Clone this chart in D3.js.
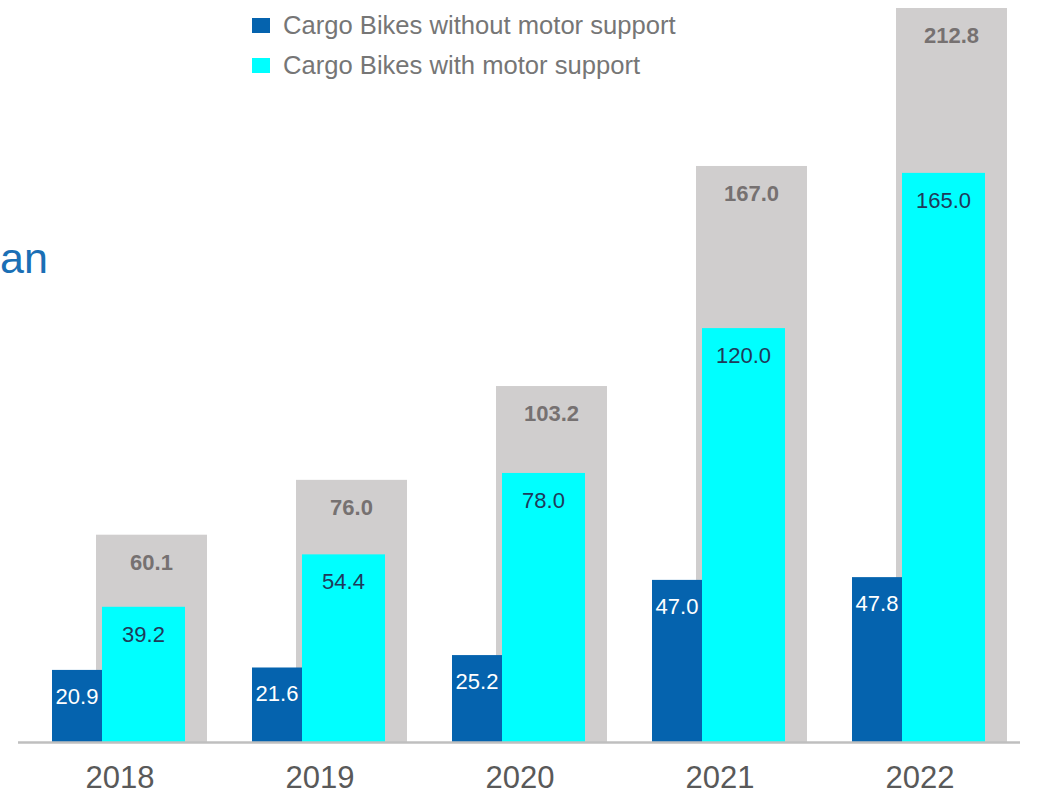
<!DOCTYPE html>
<html>
<head>
<meta charset="utf-8">
<script src="https://cdn.jsdelivr.net/npm/d3@7"></script>
<style>
  body { margin: 0; background: #fff; }
  svg { display: block; font-family: Arial, "Liberation Sans", sans-serif; }
</style>
</head>
<body>
<svg width="1050" height="791"></svg>
<script>
var svg = d3.select('svg');

// data
var years = ['2018', '2019', '2020', '2021', '2022'];
var withoutMotor = [20.9, 21.6, 25.2, 47.0, 47.8];
var withMotor = [39.2, 54.4, 78.0, 120.0, 165.0];
var totals = [60.1, 76.0, 103.2, 167.0, 212.8];
var legendLabels = ['Cargo Bikes without motor support', 'Cargo Bikes with motor support'];

var darkBlue = '#0563ae';
var cyan = '#00ffff';
var grey = '#d0cece';

var x = d3.scaleBand().domain(years).range([20, 1020]).padding(0);
var y = d3.scaleLinear().domain([0, 212.8]).range([742, 8]);

// cut-off title text on the left
svg.append('text')
  .attr('x', 0).attr('y', 273)
  .attr('font-size', 43)
  .attr('fill', '#1a6fb5')
  .text('an');

// grey total bars
svg.selectAll('rect.total')
  .data(years)
  .enter()
  .append('rect')
  .attr('class', 'total')
  .attr('x', function(d) { return x(d) + 76; })
  .attr('width', 111)
  .attr('y', function(d, i) { return y(totals[i]); })
  .attr('height', function(d, i) { return y(0) - y(totals[i]); })
  .attr('fill', grey);

// cyan bars
svg.selectAll('rect.motor')
  .data(years)
  .enter()
  .append('rect')
  .attr('class', 'motor')
  .attr('x', function(d) { return x(d) + 82; })
  .attr('width', 83)
  .attr('y', function(d, i) { return y(withMotor[i]); })
  .attr('height', function(d, i) { return y(0) - y(withMotor[i]); })
  .attr('fill', cyan);

// dark blue bars
svg.selectAll('rect.nomotor')
  .data(years)
  .enter()
  .append('rect')
  .attr('class', 'nomotor')
  .attr('x', function(d) { return x(d) + 32; })
  .attr('width', 50)
  .attr('y', function(d, i) { return y(withoutMotor[i]); })
  .attr('height', function(d, i) { return y(0) - y(withoutMotor[i]); })
  .attr('fill', darkBlue);

// labels
svg.selectAll('text.total')
  .data(years)
  .enter()
  .append('text')
  .attr('class', 'total')
  .attr('x', function(d) { return x(d) + 76 + 111 / 2; })
  .attr('y', function(d, i) { return y(totals[i]) + 35; })
  .attr('text-anchor', 'middle')
  .attr('font-size', 22)
  .attr('font-weight', 'bold')
  .attr('fill', '#767171')
  .text(function(d, i) { return totals[i].toFixed(1); });

svg.selectAll('text.motor')
  .data(years)
  .enter()
  .append('text')
  .attr('class', 'motor')
  .attr('x', function(d) { return x(d) + 82 + 83 / 2; })
  .attr('y', function(d, i) { return y(withMotor[i]) + 35; })
  .attr('text-anchor', 'middle')
  .attr('font-size', 22)
  .attr('fill', '#1f3a5a')
  .text(function(d, i) { return withMotor[i].toFixed(1); });

svg.selectAll('text.nomotor')
  .data(years)
  .enter()
  .append('text')
  .attr('class', 'nomotor')
  .attr('x', function(d) { return x(d) + 32 + 25; })
  .attr('y', function(d, i) { return y(withoutMotor[i]) + 34; })
  .attr('text-anchor', 'middle')
  .attr('font-size', 22)
  .attr('fill', '#ffffff')
  .text(function(d, i) { return withoutMotor[i].toFixed(1); });

// baseline
svg.append('line')
  .attr('x1', 18).attr('x2', 1020)
  .attr('y1', y(0) + 0.5).attr('y2', y(0) + 0.5)
  .attr('stroke', '#bfbfbf')
  .attr('stroke-width', 2.5);

// x axis labels
var xAxis = svg.append('g')
  .attr('transform', 'translate(0,' + y(0) + ')')
  .call(d3.axisBottom(x).tickSize(0));
xAxis.select('.domain').remove();
xAxis.selectAll('text')
  .attr('y', 46)
  .attr('dy', 0)
  .attr('font-size', 31)
  .attr('font-family', 'Arial, "Liberation Sans", sans-serif')
  .attr('fill', '#595959');

// legend
var legend = svg.selectAll('g.legend')
  .data(legendLabels)
  .enter()
  .append('g')
  .attr('class', 'legend')
  .attr('transform', function(d, i) { return 'translate(252,' + (18 + i * 40) + ')'; });

legend.append('rect')
  .attr('width', 18).attr('height', 15)
  .attr('fill', function(d, i) { return i === 0 ? darkBlue : cyan; });

legend.append('text')
  .attr('x', 31).attr('y', 16)
  .attr('font-size', 25.6)
  .attr('fill', '#767676')
  .text(function(d) { return d; });
</script>
</body>
</html>
